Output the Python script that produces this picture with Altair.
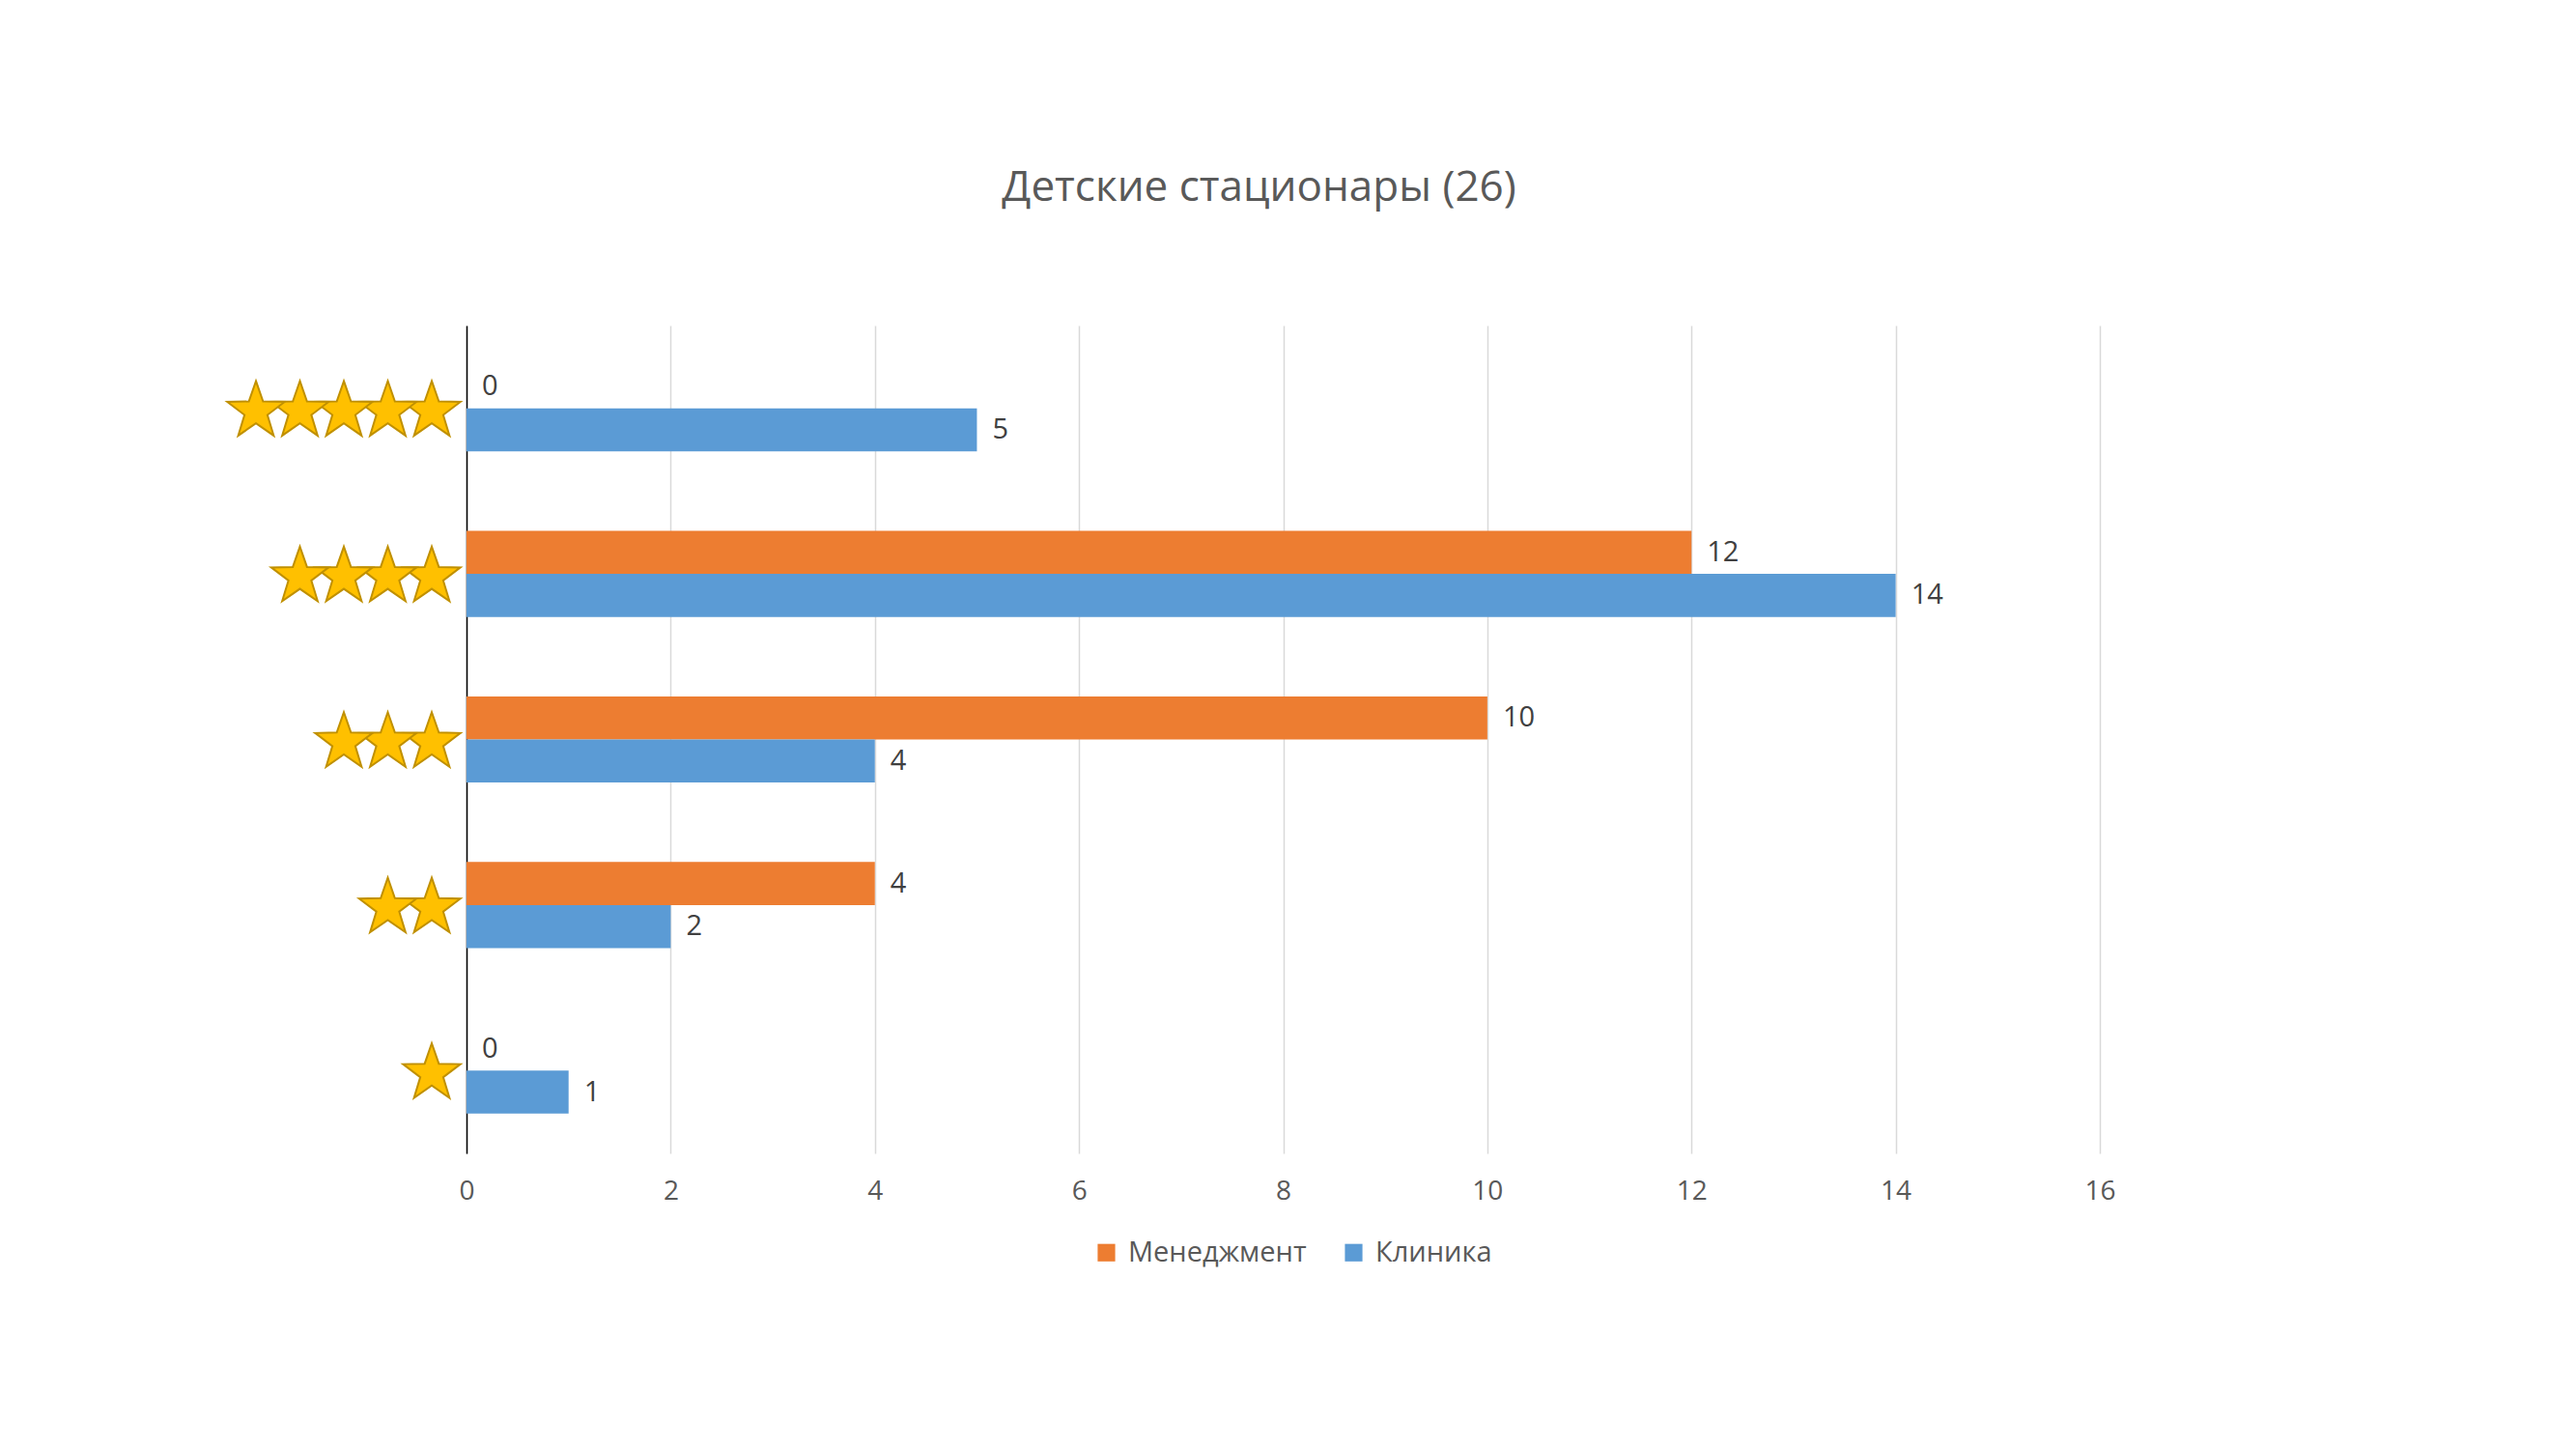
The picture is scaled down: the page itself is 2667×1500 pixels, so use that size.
import math
import altair as alt
import pandas as pd

title_text = "Детские стационары (26)"
ratings = ["5", "4", "3", "2", "1"]
star_counts = [5, 4, 3, 2, 1]
series = ["Менеджмент", "Клиника"]
management = [0, 12, 10, 4, 0]
clinic = [5, 14, 4, 2, 1]
x_ticks = [0, 2, 4, 6, 8, 10, 12, 14, 16]
colors = ["#ED7D31", "#5B9BD5"]

rows = []
for r, m, c in zip(ratings, management, clinic):
    rows.append({"rating": r, "series": series[0], "value": m})
    rows.append({"rating": r, "series": series[1], "value": c})
df = pd.DataFrame(rows)
star_df = pd.DataFrame({"rating": ratings, "stars": star_counts})

# star symbol path (unit box)
pts = []
for i in range(10):
    rad = 1.0 if i % 2 == 0 else 0.40
    a = math.radians(-90 + 36 * i)
    pts.append((rad * math.cos(a), rad * math.sin(a) + 0.095))
star_path = "M" + " L".join(f"{x:.3f},{y:.3f}" for x, y in pts) + " Z"

FONT = "Open Sans"
TXT = "#595959"

y_enc = alt.Y(
    "rating:N",
    sort=ratings,
    scale=alt.Scale(paddingInner=0.48, paddingOuter=0.24),
    axis=alt.Axis(labels=False, ticks=False, title=None, grid=False,
                  domainColor="#000000", domainWidth=1.5),
)
yoff = alt.YOffset("series:N", sort=series, scale=alt.Scale(paddingInner=0))
x_enc = alt.X(
    "value:Q",
    scale=alt.Scale(domain=[0, 16], nice=False),
    axis=alt.Axis(values=x_ticks, format="d", grid=True, gridColor="#D9D9D9",
                  gridWidth=1.5, domain=False, ticks=False, labelFontSize=28,
                  labelColor=TXT, labelFont=FONT, labelPadding=25,
                  labelAlign="center", labelFlush=False, title=None),
)

bars = alt.Chart(df).mark_bar().encode(
    x=x_enc,
    y=y_enc,
    yOffset=yoff,
    color=alt.Color(
        "series:N",
        sort=series,
        scale=alt.Scale(domain=series, range=colors),
        legend=alt.Legend(title=None, orient="none", legendX=648, legendY=945,
                          direction="horizontal",
                          symbolType="square", symbolSize=330, symbolStrokeWidth=0,
                          labelFontSize=29, labelFont=FONT, labelColor=TXT,
                          labelLimit=0, columnPadding=34, labelOffset=8),
    ),
)

labels = alt.Chart(df).mark_text(
    align="left", baseline="middle", dx=16, fontSize=29, font=FONT, color="#404040"
).encode(
    x="value:Q",
    y=alt.Y("rating:N", sort=ratings),
    yOffset=alt.YOffset("series:N", sort=series),
    text="value:Q",
)

layers = [bars, labels]
for k in range(5):
    layers.append(
        alt.Chart(star_df)
        .transform_filter(alt.datum.stars > k)
        .mark_point(shape=star_path, filled=True, fill="#FFC000", stroke="#C09000",
                    strokeWidth=2, size=3900, opacity=1)
        .encode(x=alt.value(-36 - 45.5 * k), y=alt.Y("rating:N", sort=ratings))
    )

chart = (
    alt.layer(*layers)
    .properties(
        width=1691,
        height=857,
        title=alt.TitleParams(title_text, fontSize=44, font=FONT, color=TXT,
                              fontWeight="normal", offset=120, dx=-25, anchor="middle"),
        autosize=alt.AutoSizeParams(type="none"),
        padding={"left": 475, "top": 329, "right": 485, "bottom": 298},
    )
    .configure(background="white")
    .configure_view(stroke=None)
)

chart.save("out.html", embed_options={"renderer": "svg", "actions": False})
